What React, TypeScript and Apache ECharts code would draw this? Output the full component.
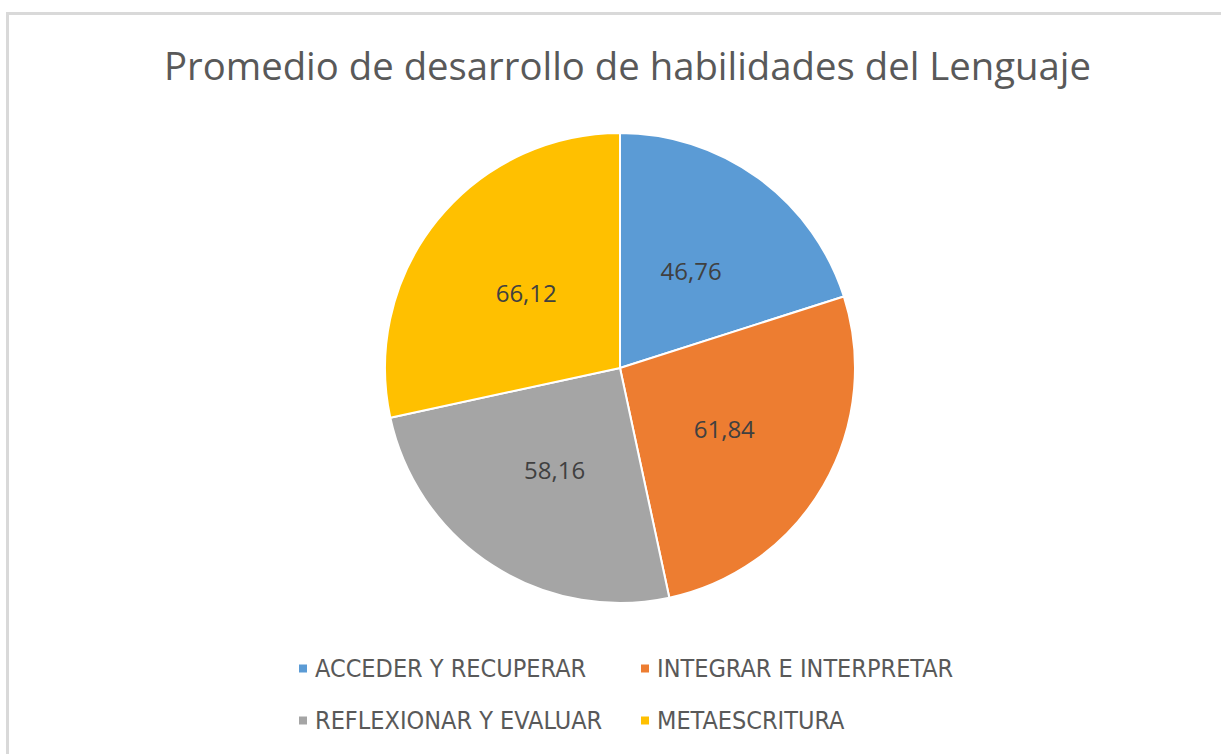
import React, { useEffect, useRef } from "react";
import * as echarts from "echarts";

const titleText = "Promedio de desarrollo de habilidades del Lenguaje";
const categories = [
  "ACCEDER Y RECUPERAR",
  "INTEGRAR E INTERPRETAR",
  "REFLEXIONAR Y EVALUAR",
  "METAESCRITURA",
];
const values = [46.76, 61.84, 58.16, 66.12];
const colors = ["#5B9BD5", "#ED7D31", "#A5A5A5", "#FFC000"];

const legendFont = "'Liberation Sans Narrow', 'DejaVu Sans Condensed', 'Roboto', sans-serif";

export default function App() {
  const ref = useRef<HTMLDivElement>(null);
  useEffect(() => {
    document.body.style.margin = "0";
    const chart = echarts.init(ref.current!, null, { renderer: "svg" });
    const legendPos = [
      { left: 292, top: 651 },
      { left: 634, top: 651 },
      { left: 292, top: 703 },
      { left: 634, top: 703 },
    ];
    chart.setOption({
      animation: false,
      backgroundColor: "#ffffff",
      color: colors,
      title: {
        text: titleText,
        left: 159,
        top: 41,
        textStyle: {
          fontFamily: "'Open Sans', sans-serif",
          fontSize: 38.3,
          fontWeight: "normal",
          color: "#595959",
        },
      },
      graphic: [
        {
          type: "rect",
          shape: { x: 7.5, y: 13.5, width: 1400, height: 900 },
          style: { fill: "none", stroke: "#d9d9d9", lineWidth: 3 },
          silent: true,
        },
      ],
      legend: categories.map((c, i) => ({
        data: [c],
        left: legendPos[i].left,
        top: legendPos[i].top,
        orient: "horizontal",
        icon: "rect",
        itemWidth: 10,
        itemHeight: 10,
        itemGap: 0,
        selectedMode: false,
        textStyle: {
          fontFamily: legendFont,
          fontSize: 25,
          color: "#595959",
          padding: [0, 0, 0, 2],
        },
      })),
      series: [
        {
          type: "pie",
          center: [620, 368],
          radius: 235,
          startAngle: 90,
          clockwise: true,
          data: categories.map((c, i) => ({ name: c, value: values[i] })),
          itemStyle: { borderColor: "#ffffff", borderWidth: 2 },
          label: {
            show: true,
            position: "inside",
            formatter: (p: any) => String(p.value.toFixed(2)).replace(".", ","),
            fontFamily: "'Open Sans', sans-serif",
            fontSize: 24,
            color: "#404040",
          },
          labelLine: { show: false },
          emphasis: { disabled: true },
        },
      ],
    });
    return () => chart.dispose();
  }, []);
  return (
    <div
      ref={ref}
      style={{ position: "fixed", left: 0, top: 0, width: 1221, height: 754 }}
    />
  );
}
